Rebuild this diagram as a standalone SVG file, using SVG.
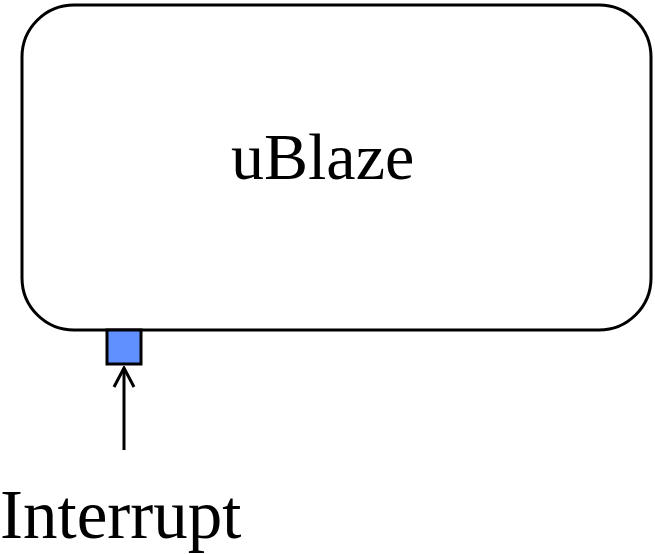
<svg xmlns="http://www.w3.org/2000/svg" width="655" height="554" viewBox="0 0 655 554">
  <style>
    .label { font-family: "Liberation Serif", "Times New Roman", serif; font-size: 66px; fill: #000; }
    .edge { stroke: #000; stroke-width: 3; fill: none; }
  </style>
  <defs>
    <marker id="openArrow" markerWidth="22" markerHeight="24" viewBox="0 0 22 24" refX="20" refY="12" orient="auto" markerUnits="userSpaceOnUse">
      <path d="M1,2 L20,12 L1,22" fill="none" stroke="#000" stroke-width="3"/>
    </marker>
  </defs>
  <rect width="655" height="554" fill="#fff"/>

  <g id="ublaze">
    <rect x="22" y="5" width="629" height="325" rx="52" ry="52" fill="#fff" stroke="#000" stroke-width="3"/>
    <text class="label" x="231" y="179">uBlaze</text>
  </g>

  <g id="interrupt-port">
    <rect x="107" y="330" width="34" height="34" fill="#6090ff" stroke="#000" stroke-width="3"/>
  </g>

  <g id="interrupt-label">
    <text class="label" x="0" y="538" style="font-size:69px">Interrupt</text>
  </g>

  <g id="connectors">
    <path class="edge" d="M124,450 L124,368" marker-end="url(#openArrow)"/>
  </g>
</svg>
